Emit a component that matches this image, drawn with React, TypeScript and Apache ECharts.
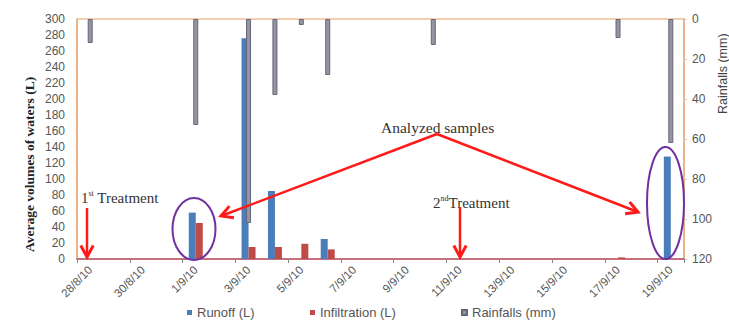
import React, { useEffect, useRef } from "react";
import * as echarts from "echarts";

const dates = [
  "28/8/10", "29/8/10", "30/8/10", "31/8/10", "1/9/10", "2/9/10", "3/9/10", "4/9/10",
  "5/9/10", "6/9/10", "7/9/10", "8/9/10", "9/9/10", "10/9/10", "11/9/10", "12/9/10",
  "13/9/10", "14/9/10", "15/9/10", "16/9/10", "17/9/10", "18/9/10", "19/9/10",
];
const runoff = [0, 0, 0, 0, 58, 0, 276, 85, 0, 25, 0, 0, 0, 0, 0, 0, 0, 0, 0, 0, 0, 0, 128];
const infiltration = [0, 0, 0, 0, 45, 0, 15, 15, 19, 12, 0, 0, 0, 0, 0, 0, 0, 0, 0, 0, 2, 0, 0];
const rainfall = [12, 0, 0, 0, 53, 0, 102, 38, 3, 28, 0, 0, 0, 13, 0, 0, 0, 0, 0, 0, 9.5, 0, 62];

const seriesNames = ["Runoff (L)", "Infiltration (L)", "Rainfalls (mm)"];

const RED = "#ff1a1a";
const PURPLE = "#7030a0";
const SERIF = "'Liberation Serif', 'DejaVu Serif', serif";
const SANS = "'Liberation Sans', Arial, sans-serif";

const nz = (arr: number[]) => arr.map((v) => (v === 0 ? null : v));

function head(x1: number, y1: number, x2: number, y2: number, len = 13, ang = 0.5) {
  const a = Math.atan2(y2 - y1, x2 - x1);
  return [
    [x2 - len * Math.cos(a - ang), y2 - len * Math.sin(a - ang)],
    [x2, y2],
    [x2 - len * Math.cos(a + ang), y2 - len * Math.sin(a + ang)],
  ];
}

function arrow(x1: number, y1: number, x2: number, y2: number) {
  return [
    { type: "line", z: 100, shape: { x1, y1, x2, y2 }, style: { stroke: RED, lineWidth: 2.5 } },
    {
      type: "polyline",
      z: 100,
      shape: { points: head(x1, y1, x2, y2) },
      style: { stroke: RED, lineWidth: 3, fill: null, lineJoin: "miter" },
    },
  ];
}

export default function App() {
  const ref = useRef<HTMLDivElement>(null);
  useEffect(() => {
    const chart = echarts.init(ref.current!, undefined, { renderer: "svg" });
    const legendBase = {
      orient: "horizontal",
      top: 306,
      padding: 0,
      itemWidth: 5,
      itemHeight: 5,
      itemGap: 4,
      textStyle: { fontFamily: SANS, fontSize: 13, color: "#555" },
      icon: "rect",
    };
    chart.setOption({
      animation: false,
      backgroundColor: "#fff",
      grid: {
        left: 77,
        right: 45,
        top: 19,
        bottom: 61,
        show: true,
        borderColor: "#f0c095",
        borderWidth: 1.5,
        backgroundColor: "transparent",
      },
      legend: [
        { ...legendBase, left: 187, data: [seriesNames[0]] },
        { ...legendBase, left: 310, data: [seriesNames[1]] },
        { ...legendBase, left: 461, data: [seriesNames[2]] },
      ],
      xAxis: [
        {
          type: "category",
          data: dates,
          boundaryGap: true,
          axisLine: { lineStyle: { color: "#b8506e", width: 1.5 } },
          axisTick: { show: true, interval: 1, length: 4, lineStyle: { color: "#888" } },
          axisLabel: {
            interval: 1,
            rotate: 45,
            margin: 9,
            fontFamily: SANS,
            fontSize: 11.5,
            color: "#555",
          },
        },
        {
          type: "category",
          data: dates,
          position: "bottom",
          show: false,
          boundaryGap: true,
        },
      ],
      yAxis: [
        {
          type: "value",
          min: 0,
          max: 300,
          interval: 20,
          axisLine: { show: true, lineStyle: { color: "#e9ad80", width: 1.5 } },
          axisTick: { show: false },
          splitLine: { show: false },
          axisLabel: { fontFamily: SANS, fontSize: 12, color: "#555", margin: 12 },
        },
        {
          type: "value",
          min: 0,
          max: 120,
          interval: 20,
          inverse: true,
          position: "right",
          axisLine: { show: true, lineStyle: { color: "#e9ad80", width: 1.5 } },
          axisTick: { show: true, length: 3, lineStyle: { color: "#ccc" } },
          splitLine: { show: false },
          axisLabel: { fontFamily: SANS, fontSize: 12, color: "#555", margin: 8 },
        },
      ],
      series: [
        {
          name: seriesNames[0],
          type: "bar",
          xAxisIndex: 0,
          yAxisIndex: 0,
          data: nz(runoff),
          barWidth: 7,
          barGap: "0%",
          itemStyle: { color: "#4a7ebb" },
          z: 2,
        },
        {
          name: seriesNames[1],
          type: "bar",
          xAxisIndex: 0,
          yAxisIndex: 0,
          data: nz(infiltration),
          barWidth: 7,
          barGap: "0%",
          itemStyle: { color: "#be4b48" },
          z: 2,
        },
        {
          name: seriesNames[2],
          type: "bar",
          xAxisIndex: 1,
          yAxisIndex: 1,
          data: nz(rainfall),
          barWidth: 5,
          itemStyle: { color: "#9494a2", borderColor: "#66667a", borderWidth: 1 },
          z: 3,
        },
      ],
      graphic: [
        {
          type: "text",
          z: 100,
          x: 22,
          y: 252,
          rotation: Math.PI / 2,
          style: {
            text: "Average volumes of waters (L)",
            fontFamily: SERIF,
            fontWeight: "bold",
            fontSize: 13.5,
            fill: "#222",
          },
        },
        {
          type: "text",
          z: 100,
          x: 81,
          y: 189,
          style: {
            text: "{a|1}{s|st}{a| Treatment}",
            rich: {
              a: { fontFamily: SERIF, fontSize: 15, fill: "#333", lineHeight: 17 },
              s: { fontFamily: SERIF, fontSize: 8, fill: "#333", verticalAlign: "top", lineHeight: 17 },
            },
          },
        },
        {
          type: "text",
          z: 100,
          x: 433,
          y: 194,
          style: {
            text: "{a|2}{s|nd}{a|Treatment}",
            rich: {
              a: { fontFamily: SERIF, fontSize: 15, fill: "#333", lineHeight: 17 },
              s: { fontFamily: SERIF, fontSize: 8, fill: "#333", verticalAlign: "top", lineHeight: 17 },
            },
          },
        },
        {
          type: "text",
          z: 100,
          x: 381,
          y: 119,
          style: { text: "Analyzed samples", fontFamily: SERIF, fontSize: 15.5, fill: "#333" },
        },
        {
          type: "text",
          z: 100,
          x: 716,
          y: 114,
          rotation: Math.PI / 2,
          style: { text: "Rainfalls (mm)", fontFamily: SANS, fontSize: 12.5, fill: "#444" },
        },
        ...arrow(87, 208, 87, 257),
        ...arrow(460, 207, 460, 257),
        ...arrow(437, 134, 221, 216),
        ...arrow(437, 134, 638, 212),
        {
          type: "ellipse",
          z: 100,
          shape: { cx: 194, cy: 229, rx: 21.5, ry: 31 },
          style: { stroke: PURPLE, lineWidth: 2, fill: null },
        },
        {
          type: "ellipse",
          z: 100,
          shape: { cx: 665.5, cy: 203, rx: 18.5, ry: 56 },
          style: { stroke: PURPLE, lineWidth: 2, fill: null },
        },
      ],
    });
    return () => chart.dispose();
  }, []);
  return (
    <div
      ref={ref}
      style={{ position: "fixed", left: 0, top: 0, width: 729, height: 320 }}
    />
  );
}
